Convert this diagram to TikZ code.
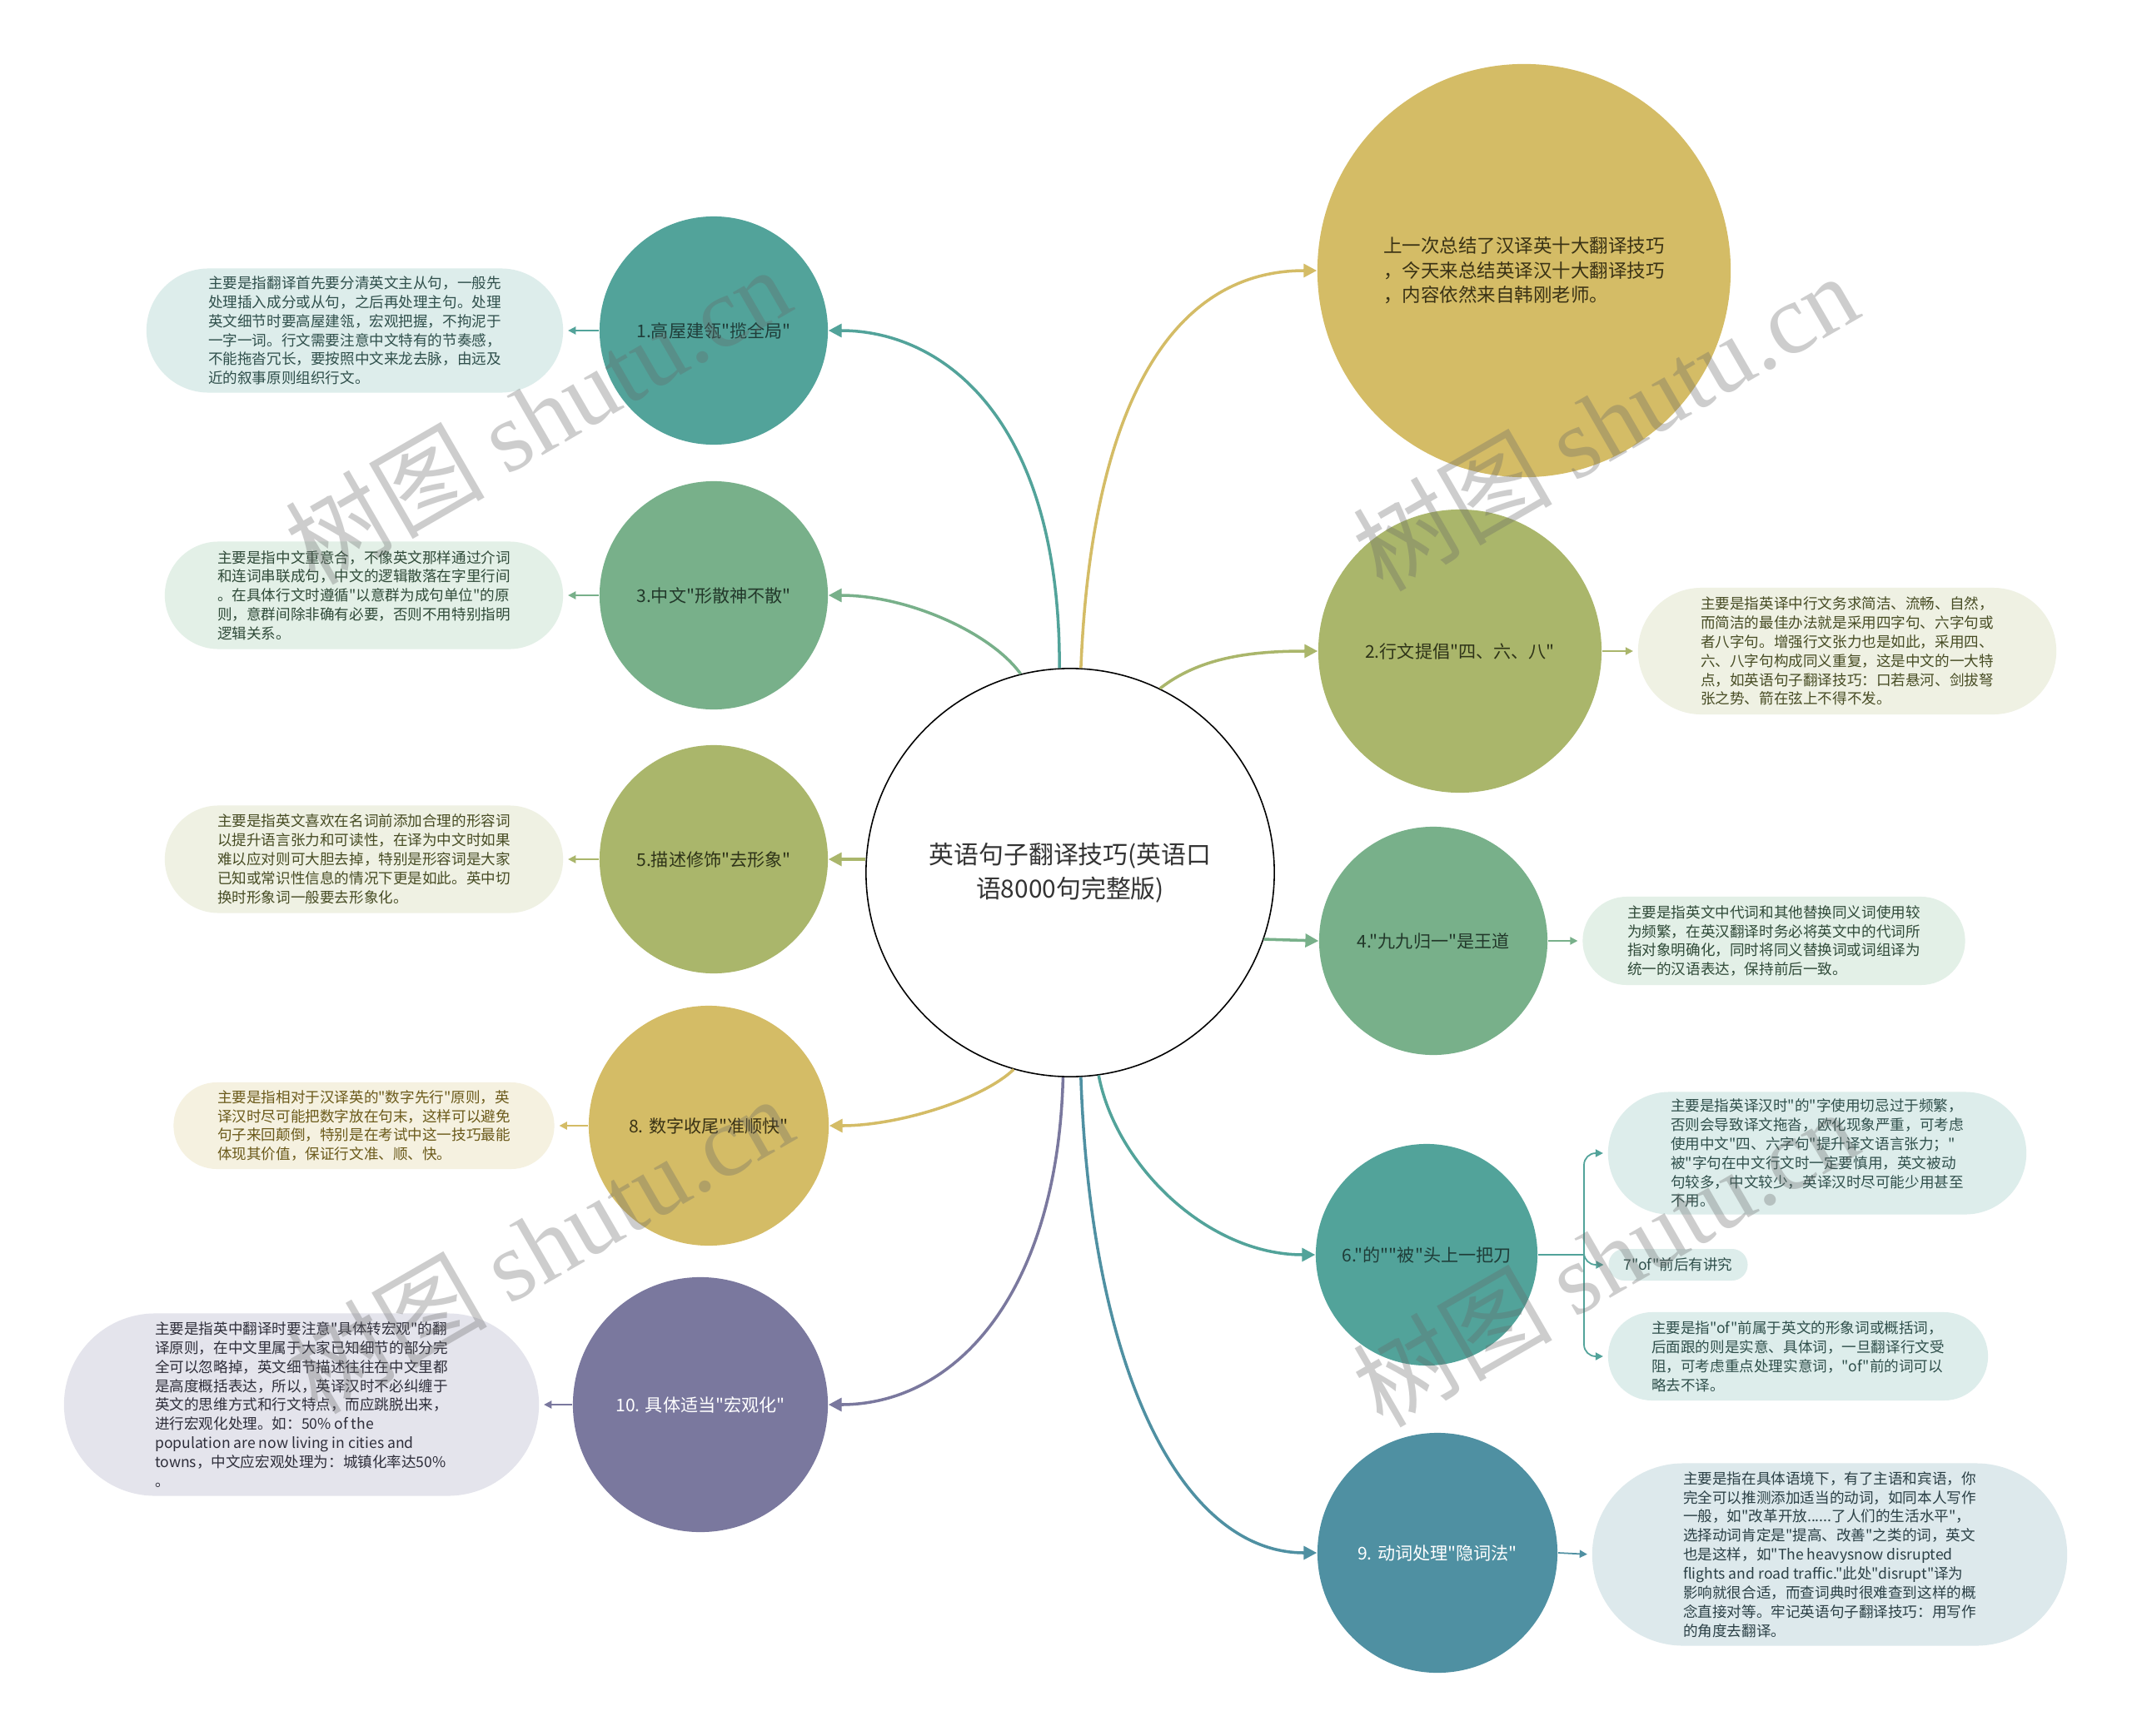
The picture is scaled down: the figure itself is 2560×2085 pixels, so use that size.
\documentclass[tikz,border=0pt]{standalone}
\usepackage{fontspec}
\setmainfont{Noto Sans CJK SC}[Ligatures=TeXOff]
\newfontfamily\wmserif{Liberation Serif}
\usetikzlibrary{shapes.misc,arrows.meta,calc}
\definecolor{cTeal}{HTML}{52A39A}
\definecolor{cGreen}{HTML}{78B08A}
\definecolor{cOlive}{HTML}{AAB66B}
\definecolor{cGold}{HTML}{D4BC66}
\definecolor{cPurple}{HTML}{7A789E}
\definecolor{cBlue}{HTML}{4F90A2}
\definecolor{lTeal}{HTML}{DDEDEB}
\definecolor{lGreen}{HTML}{E3F0E7}
\definecolor{lOlive}{HTML}{EFF1E3}
\definecolor{lGold}{HTML}{F5F1E0}
\definecolor{lPurple}{HTML}{E4E4EC}
\definecolor{lBlue}{HTML}{DDE9EC}
\definecolor{tTeal}{HTML}{2F4F4B}
\definecolor{tGreen}{HTML}{2F4A38}
\definecolor{tOlive}{HTML}{474C24}
\definecolor{tGold}{HTML}{6B5A1A}
\definecolor{tPurple}{HTML}{2E2E3A}
\definecolor{tBlue}{HTML}{2A3F45}
\definecolor{dTeal}{HTML}{1F3D39}
\definecolor{dGreen}{HTML}{22382A}
\definecolor{dOlive}{HTML}{2E3318}
\definecolor{dGold}{HTML}{3A3215}
\definecolor{txtdark}{HTML}{333333}
\tikzset{
  topic/.style={circle, inner sep=0pt, align=center, font=\fontsize{6}{8}\selectfont, text=white},
  note/.style={rounded rectangle, inner sep=0pt, align=left, font=\fontsize{5}{6.5}\selectfont},
  link/.style={line width=1pt, -{Triangle[length=4.5pt,width=4.5pt]}},
  sublink/.style={line width=0.5pt, shorten >=1.5pt, -{Triangle[length=2.6pt,width=2.6pt]}},
  wmark/.style={rotate=30, text=black!60, opacity=0.32, font=\fontsize{34}{34}\selectfont},
}
\begin{document}
\begin{tikzpicture}[x=0.01cm,y=-0.01cm]
\useasboundingbox (0,0) rectangle (2560,2085);
\fill[white] (0,0) rectangle (2560,2085);

% center
\node[circle, draw=black, line width=0.45pt, fill=white, minimum size=4.9cm, inner sep=0pt, align=center,
  font=\fontsize{8.5}{11.6}\selectfont, text=txtdark] (C) at (1285,1048) {英语句子翻译技巧(英语口\\语8000句完整版)};

% left topics
\node[topic, fill=cTeal, minimum size=2.74cm, text=dTeal] (n1) at (857,397) {1.高屋建瓴"揽全局"};
\node[topic, fill=cGreen, minimum size=2.74cm, text=dGreen] (n3) at (857,715) {3.中文"形散神不散"};
\node[topic, fill=cOlive, minimum size=2.74cm, text=dOlive] (n5) at (857,1032) {5.描述修饰"去形象"};
\node[topic, fill=cGold, minimum size=2.88cm, text=dGold] (n8) at (851,1352) {8. 数字收尾"准顺快"};
\node[topic, fill=cPurple, minimum size=3.06cm] (n10) at (841,1687) {10. 具体适当"宏观化"};

% right topics
\node[circle, fill=cGold, minimum size=4.96cm, inner sep=0pt, align=left,
  font=\fontsize{6.4}{8.4}\selectfont, text=dGold] (top) at (1830,325)
  {上一次总结了汉译英十大翻译技巧\\，今天来总结英译汉十大翻译技巧\\，内容依然来自韩刚老师。};
\node[topic, fill=cOlive, minimum size=3.4cm, text=dOlive] (n2) at (1753,782) {2.行文提倡"四、六、八"};
\node[topic, fill=cGreen, minimum size=2.74cm, text=dGreen] (n4) at (1721,1130) {4."九九归一"是王道};
\node[topic, fill=cTeal, minimum size=2.66cm, text=dTeal] (n6) at (1713,1507) {6."的""被"头上一把刀};
\node[topic, fill=cBlue, minimum size=2.88cm] (n9) at (1726,1865) {9. 动词处理"隐词法"};

% notes left
\node[note, fill=lTeal, text=tTeal, minimum width=5.0cm, minimum height=1.49cm] (b1) at (426,397)
{主要是指翻译首先要分清英文主从句，一般先\\处理插入成分或从句，之后再处理主句。处理\\英文细节时要高屋建瓴，宏观把握，不拘泥于\\一字一词。行文需要注意中文特有的节奏感，\\不能拖沓冗长，要按照中文来龙去脉，由远及\\近的叙事原则组织行文。};
\node[note, fill=lGreen, text=tGreen, minimum width=4.78cm, minimum height=1.29cm] (b3) at (437,715)
{主要是指中文重意合，不像英文那样通过介词\\和连词串联成句，中文的逻辑散落在字里行间\\。在具体行文时遵循"以意群为成句单位"的原\\则，意群间除非确有必要，否则不用特别指明\\逻辑关系。};
\node[note, fill=lOlive, text=tOlive, minimum width=4.78cm, minimum height=1.29cm] (b5) at (437,1032)
{主要是指英文喜欢在名词前添加合理的形容词\\以提升语言张力和可读性，在译为中文时如果\\难以应对则可大胆去掉，特别是形容词是大家\\已知或常识性信息的情况下更是如此。英中切\\换时形象词一般要去形象化。};
\node[note, fill=lGold, text=tGold, minimum width=4.57cm, minimum height=1.04cm] (b8) at (437,1352)
{主要是指相对于汉译英的"数字先行"原则，英\\译汉时尽可能把数字放在句末，这样可以避免\\句子来回颠倒，特别是在考试中这一技巧最能\\体现其价值，保证行文准、顺、快。};
\node[note, fill=lPurple, text=tPurple, minimum width=5.7cm, minimum height=2.19cm] (b10) at (362,1687)
{主要是指英中翻译时要注意"具体转宏观"的翻\\译原则，在中文里属于大家已知细节的部分完\\全可以忽略掉，英文细节描述往往在中文里都\\是高度概括表达，所以，英译汉时不必纠缠于\\英文的思维方式和行文特点，而应跳脱出来，\\进行宏观化处理。如：50\% of the\\population are now living in cities and\\towns，中文应宏观处理为：城镇化率达50\%\\。};

% notes right
\node[note, fill=lOlive, text=tOlive, minimum width=5.02cm, minimum height=1.52cm] (b2) at (2218,782)
{主要是指英译中行文务求简洁、流畅、自然，\\而简洁的最佳办法就是采用四字句、六字句或\\者八字句。增强行文张力也是如此，采用四、\\六、八字句构成同义重复，这是中文的一大特\\点，如英语句子翻译技巧：口若悬河、剑拔弩\\张之势、箭在弦上不得不发。};
\node[note, fill=lGreen, text=tGreen, minimum width=4.59cm, minimum height=1.06cm] (b4) at (2130,1130)
{主要是指英文中代词和其他替换同义词使用较\\为频繁，在英汉翻译时务必将英文中的代词所\\指对象明确化，同时将同义替换词或词组译为\\统一的汉语表达，保持前后一致。};
\node[note, fill=lTeal, text=tTeal, minimum width=5.02cm, minimum height=1.47cm] (b6a) at (2182,1385)
{主要是指英译汉时"的"字使用切忌过于频繁，\\否则会导致译文拖沓，欧化现象严重，可考虑\\使用中文"四、六字句"提升译文语言张力；"\\被"字句在中文行文时一定要慎用，英文被动\\句较多，中文较少，英译汉时尽可能少用甚至\\不用。};
\node[note, fill=lTeal, text=tTeal, minimum width=1.67cm, minimum height=0.38cm] (b7) at (2015,1519)
{7"of"前后有讲究};
\node[note, fill=lTeal, text=tTeal, minimum width=4.56cm, minimum height=1.06cm] (b6b) at (2159,1629)
{主要是指"of"前属于英文的形象词或概括词，\\后面跟的则是实意、具体词，一旦翻译行文受\\阻，可考虑重点处理实意词，"of"前的词可以\\略去不译。};
\node[note, fill=lBlue, text=tBlue, minimum width=5.7cm, minimum height=2.19cm] (b9) at (2197,1867)
{主要是指在具体语境下，有了主语和宾语，你\\完全可以推测添加适当的动词，如同本人写作\\一般，如"改革开放......了人们的生活水平"，\\选择动词肯定是"提高、改善"之类的词，英文\\也是这样，如"The heavysnow disrupted\\flights and road traffic."此处"disrupt"译为\\影响就很合适，而查词典时很难查到这样的概\\念直接对等。牢记英语句子翻译技巧：用写作\\的角度去翻译。};

% main connectors
\draw[link, cTeal] (C.93) .. controls (1273,500) and (1130,397) .. (n1.east);
\draw[link, cGreen] (C.104) .. controls (1190,760) and (1090,715) .. (n3.east);
\draw[link, cOlive] (C.west |- n5.east) -- (n5.east);
\draw[link, cGold] (C.-106) .. controls (1180,1320) and (1080,1352) .. (n8.east);
\draw[link, cPurple] (C.-92) .. controls (1270,1550) and (1150,1687) .. (n10.east);
\draw[link, cGold] (C.87) .. controls (1310,500) and (1400,325) .. (top.west);
\draw[link, cOlive] (C.64) .. controls (1440,790) and (1500,782) .. (n2.west);
\draw[link, cGreen] (C.-19.5) -- (n4.west);
\draw[link, cTeal] (C.-82) .. controls (1340,1400) and (1450,1507) .. (n6.west);
\draw[link, cBlue] (C.-87) .. controls (1310,1650) and (1420,1865) .. (n9.west);

% sub connectors
\draw[sublink, cTeal] (n1.west) -- (b1.east);
\draw[sublink, cGreen] (n3.west) -- (b3.east);
\draw[sublink, cOlive] (n5.west) -- (b5.east);
\draw[sublink, cGold] (n8.west) -- (b8.east);
\draw[sublink, cPurple] (n10.west) -- (b10.east);
\draw[sublink, cOlive] (n2.east) -- (b2.west);
\draw[sublink, cGreen] (n4.east) -- (b4.west);
\draw[sublink, cBlue] (n9.east) -- (b9.west);
\coordinate (br) at (1902,1507);
\draw[line width=0.5pt, cTeal] (n6.east) -- (br);
\draw[sublink, cTeal, rounded corners=4pt] (br) |- (b6a.west);
\draw[sublink, cTeal, rounded corners=4pt] (br) |- (b7.west);
\draw[sublink, cTeal, rounded corners=4pt] (br) |- (b6b.west);

% watermarks
\node[wmark] (w1) at (645,498) {树图 {\wmserif shutu.cn}};
\node[wmark] (w2) at (1927,506) {树图 {\wmserif shutu.cn}};
\node[wmark] (w3) at (648,1494) {树图 {\wmserif shutu.cn}};
\node[wmark] (w4) at (1927,1510) {树图 {\wmserif shutu.cn}};
\end{tikzpicture}
\end{document}
